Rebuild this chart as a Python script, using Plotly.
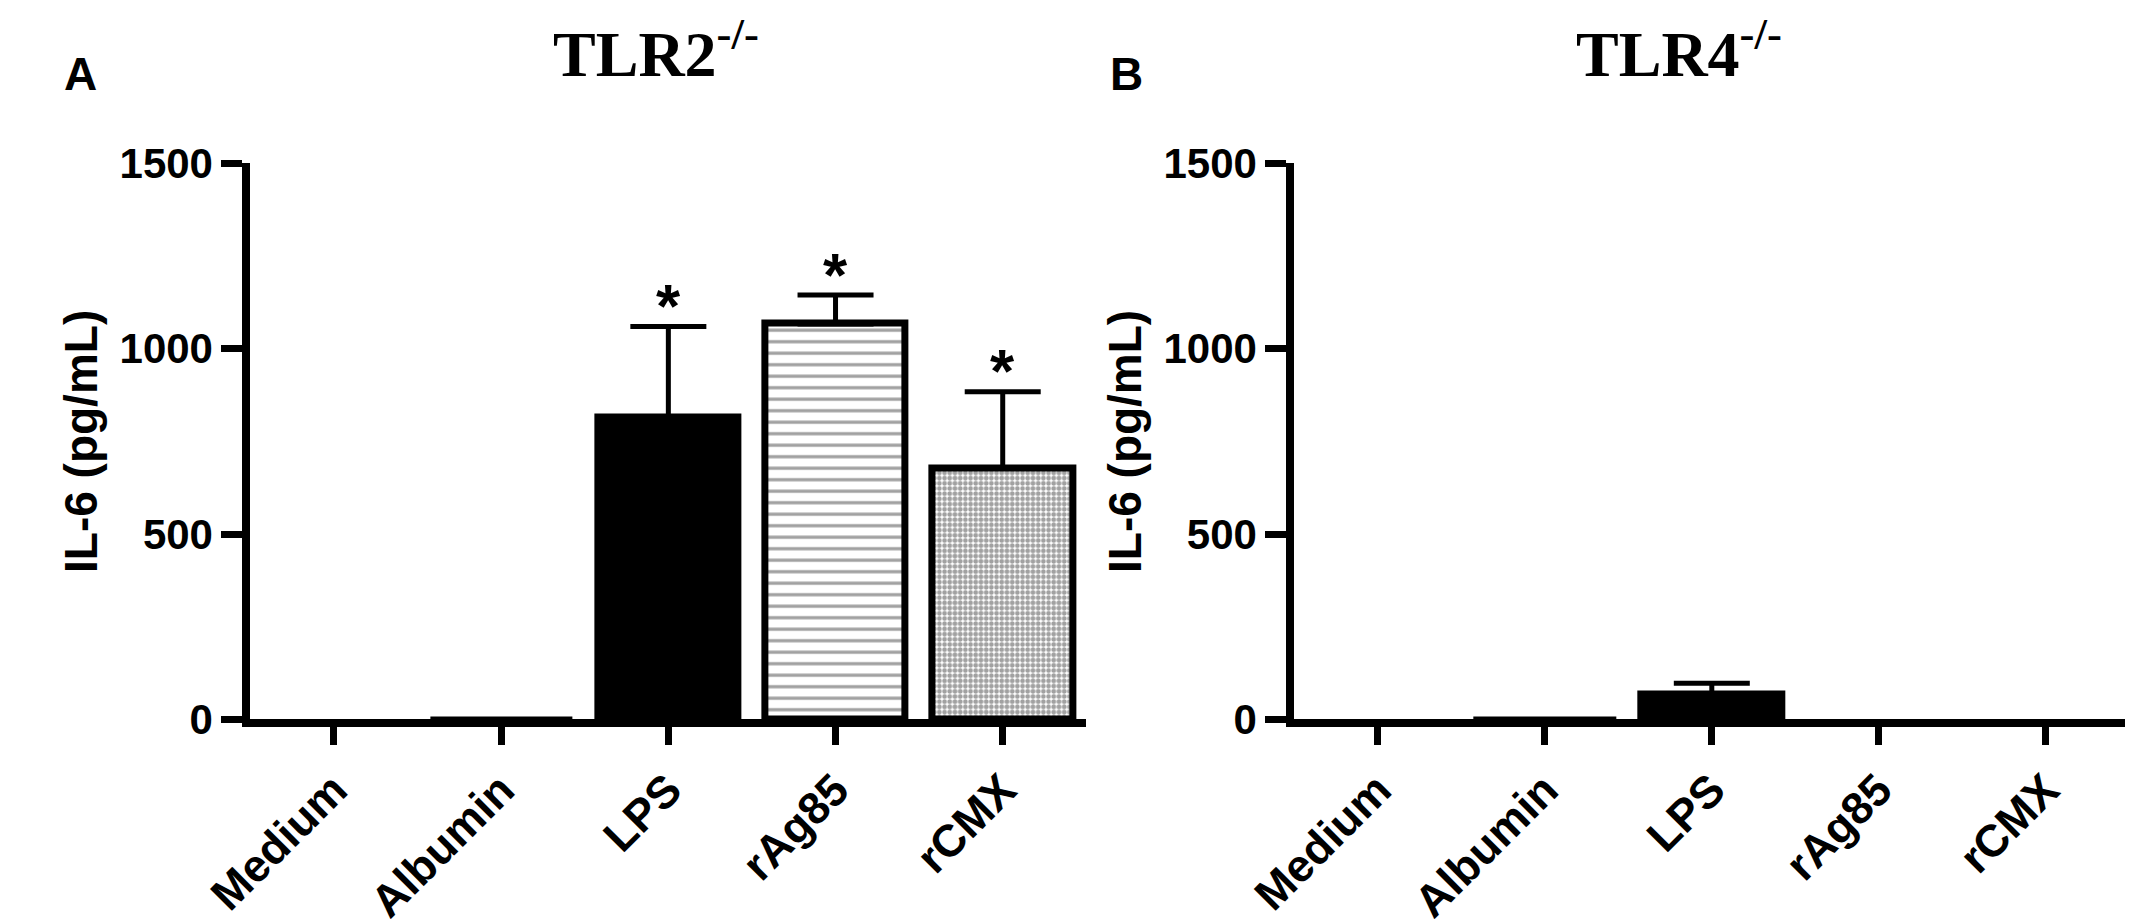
import plotly.graph_objects as go

# IL-6 (pg/mL)
groups = ["Medium", "Albumin", "LPS", "rAg85", "rCMX"]
tlr2_mean = [0, 4, 815, 1067, 677]
tlr2_err = [None, None, 245, 78, 207]
tlr2_sig = ["", "", "*", "*", "*"]
tlr4_mean = [0, 4, 68, 0, 0]
tlr4_err = [None, None, 29, None, None]
tlr4_sig = ["", "", "", "", ""]
y_ticks = [0, 500, 1000, 1500]

W, H = 2133, 919
SANS = "Liberation Sans, Arial, sans-serif"
SERIF = "Liberation Serif, Times New Roman, serif"

fill = ["white", "white", "black", "white", "white"]
shapes = ["", "", "", "-", "."]
psize = [8, 8, 8, 11.5, 5.2]
psolid = [0.3, 0.3, 0.3, 0.28, 0.62]


def add_panel(fig, means, errs, xa, ya):
    # flat bars get a thin outline, empty ones none
    lw = [7 if v >= 20 else (2 if v > 0 else 0) for v in means]
    fig.add_trace(go.Bar(
        x=groups, y=means, xaxis=xa, yaxis=ya, width=0.84,
        marker=dict(color=fill, line=dict(color="black", width=lw),
                    pattern=dict(shape=shapes, size=psize, solidity=psolid,
                                 fgcolor="black", bgcolor="white")),
        showlegend=False, hoverinfo="skip",
    ))
    # upward-only SEM bars, just where a value was read
    keep = [i for i, e in enumerate(errs) if e is not None]
    fig.add_trace(go.Scatter(
        x=[groups[i] for i in keep], y=[means[i] for i in keep],
        xaxis=xa, yaxis=ya, mode="markers", marker=dict(size=1, opacity=0),
        error_y=dict(type="data", array=[errs[i] for i in keep],
                     arrayminus=[0] * len(keep), symmetric=False,
                     color="black", thickness=5, width=38),
        showlegend=False, hoverinfo="skip",
    ))


fig = go.Figure()
add_panel(fig, tlr2_mean, tlr2_err, "x", "y")
add_panel(fig, tlr4_mean, tlr4_err, "x2", "y2")

xax = dict(type="category", categoryorder="array", categoryarray=groups,
           range=[-0.5, 4.5], showline=True, linecolor="black",
           linewidth=8, ticks="outside", ticklen=18, tickwidth=7, tickcolor="black",
           tickangle=-45, tickfont=dict(family=SANS, size=45, color="black", weight="bold"),
           showgrid=False, zeroline=False, fixedrange=True)
yax = dict(range=[0, 1500], tickvals=y_ticks, showline=True, linecolor="black",
           linewidth=8, ticks="outside", ticklen=21, tickwidth=7, tickcolor="black",
           tickfont=dict(family=SANS, size=42, color="black", weight="bold"),
           ticklabelstandoff=0, showgrid=False, zeroline=False, fixedrange=True,
           title=dict(text="IL-6 (pg/mL)", standoff=10,
                      font=dict(family=SANS, size=46, color="black", weight="bold")),
           automargin=False)

fig.update_layout(
    width=W, height=H, margin=dict(l=0, r=0, t=0, b=0),
    plot_bgcolor="white", paper_bgcolor="white", bargap=0,
    xaxis=dict(xax, domain=[197 / W, 1053 / W], anchor="y"),
    yaxis=dict(yax, domain=[1 - 732 / H, 1 - 160 / H], anchor="x"),
    xaxis2=dict(xax, domain=[1266 / W, 2121 / W], anchor="y2"),
    yaxis2=dict(yax, domain=[1 - 732 / H, 1 - 160 / H], anchor="x2"),
)

ann = []
for xref, yref, means, errs, sig in [("x", "y", tlr2_mean, tlr2_err, tlr2_sig),
                                     ("x2", "y2", tlr4_mean, tlr4_err, tlr4_sig)]:
    for g, m, e, s in zip(groups, means, errs, sig):
        if s:
            ann.append(dict(x=g, y=m + (e or 0), xref=xref, yref=yref, text=s,
                            showarrow=False, yanchor="middle", yshift=21,
                            font=dict(family=SANS, size=62, color="black", weight="bold")))

# panel titles and letters
for xc, title in [(612 / W, "TLR2<sup>-/-</sup>"), (1660 / W, "TLR4<sup>-/-</sup>")]:
    ann.append(dict(x=xc, y=1 - 43 / H, xref="paper", yref="paper", text=title,
                    showarrow=False, xanchor="center", yanchor="middle",
                    font=dict(family=SERIF, size=64, color="black", weight="bold")))
for xc, letter in [(23 / W, "A"), (1094 / W, "B")]:
    ann.append(dict(x=xc, y=1 - 68 / H, xref="paper", yref="paper", text=letter,
                    showarrow=False, xanchor="center", yanchor="middle",
                    font=dict(family=SANS, size=46, color="black", weight="bold")))

fig.update_layout(annotations=ann)
fig.write_html("out.html")
